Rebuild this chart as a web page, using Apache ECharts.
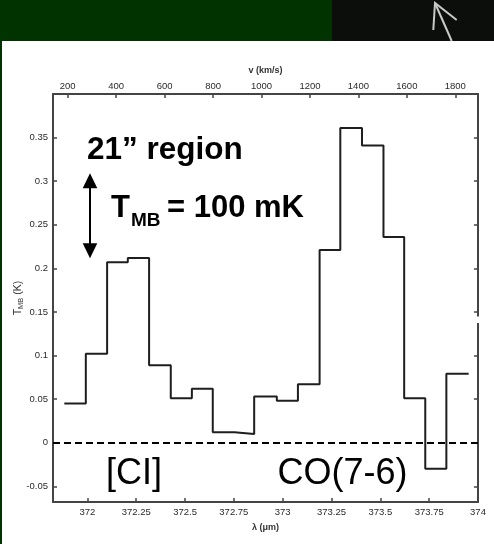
<!DOCTYPE html>
<html>
<head>
<meta charset="utf-8">
<script src="https://cdn.jsdelivr.net/npm/echarts@6/dist/echarts.min.js"></script>
<style>
  html, body { margin: 0; padding: 0; background: #ffffff; }
  #chart { width: 494px; height: 544px; }
</style>
</head>
<body>
<div id="chart"></div>
<script>
// Bin edges (wavelength, micron) and main-beam temperature per bin (K)
const lambdaEdges = [371.882, 371.992, 372.101, 372.207, 372.316, 372.427, 372.535, 372.642, 372.753, 372.854, 372.970, 373.078, 373.189, 373.295, 373.406, 373.516, 373.622, 373.730, 373.838, 373.952];
const tmbValues = [0.045, 0.102, 0.207, 0.212, 0.089, 0.051, 0.062, 0.012, 0.010, 0.053, 0.048, 0.067, 0.221, 0.361, 0.341, 0.236, 0.051, -0.030, 0.079];

// Tick labels
const lambdaTicks = [372, 372.25, 372.5, 372.75, 373, 373.25, 373.5, 373.75, 374];
const velocityTicks = [200, 400, 600, 800, 1000, 1200, 1400, 1600, 1800];
const tmbTicks = [-0.05, 0, 0.05, 0.1, 0.15, 0.2, 0.25, 0.3, 0.35];

// Axis ranges
const lambdaRange = [371.824, 374];
const velocityRange = [139.3, 1893.7];
const tmbRange = [-0.068, 0.40];

// Step data: each bin drawn from its left edge; final edge closes the last bin
const stepData = lambdaEdges.map((e, i) => [e, tmbValues[Math.min(i, tmbValues.length - 1)]]);

const axisColor = '#444';
const labelFont = { fontFamily: 'Liberation Sans', fontSize: 9.5, color: '#2a2a2a' };

function makeAxisCommon(ticks, showLabel, margin) {
  return {
    type: 'value',
    nameMoveOverlap: false,
    axisLine: { show: true, onZero: false, lineStyle: { color: axisColor, width: 2 } },
    axisTick: { show: true, inside: true, length: 4, customValues: ticks, lineStyle: { color: axisColor, width: 1.5 } },
    axisLabel: Object.assign({ show: showLabel, customValues: ticks, margin: margin, formatter: v => String(v) }, labelFont),
    splitLine: { show: false }
  };
}

const chart = echarts.init(document.getElementById('chart'), null, { renderer: 'canvas' });

const titleFont = { fontFamily: 'Liberation Sans', fontSize: 9, color: '#333', fontWeight: 'bold' };

const xBottom = Object.assign(makeAxisCommon(lambdaTicks, true, 5), {
  position: 'bottom', min: lambdaRange[0], max: lambdaRange[1],
  name: 'λ (μm)', nameLocation: 'middle', nameGap: 21,
  nameTextStyle: titleFont
});
const xTop = Object.assign(makeAxisCommon(velocityTicks, true, 2.5), {
  position: 'top', min: velocityRange[0], max: velocityRange[1],
  name: 'v (km/s)', nameLocation: 'middle', nameGap: 19,
  nameTextStyle: titleFont
});
const yLeft = Object.assign(makeAxisCommon(tmbTicks, true, 5), {
  position: 'left', min: tmbRange[0], max: tmbRange[1],
  name: '{t|T}{s|MB}{t| (K)}', nameLocation: 'middle', nameGap: 28,
  nameTextStyle: {
    rich: {
      t: { fontFamily: 'Liberation Sans', fontSize: 10.5, color: '#333', lineHeight: 14, verticalAlign: 'middle' },
      s: { fontFamily: 'Liberation Sans', fontSize: 7.5, color: '#333', verticalAlign: 'bottom' }
    }
  }
});
const yRight = Object.assign(makeAxisCommon(tmbTicks, false, 5), {
  position: 'right', min: tmbRange[0], max: tmbRange[1]
});

const textBold = { fontFamily: 'Liberation Sans', fontWeight: 'bold', fill: '#000', verticalAlign: 'top', align: 'left' };
const textNorm = { fontFamily: 'Liberation Sans', fontWeight: 'normal', fill: '#000', verticalAlign: 'top', align: 'left' };

chart.setOption({
  animation: false,
  backgroundColor: '#ffffff',
  grid: { left: 53, right: 16, top: 94, bottom: 42, containLabel: false, outerBoundsMode: 'none' },
  xAxis: [xBottom, xTop],
  yAxis: [yLeft, yRight],
  series: [{
    type: 'line',
    xAxisIndex: 0,
    yAxisIndex: 0,
    step: 'end',
    showSymbol: false,
    symbol: 'none',
    data: stepData,
    lineStyle: { color: '#1e1e1e', width: 2 },
    z: 5,
    markLine: {
      silent: true,
      symbol: ['none', 'none'],
      label: { show: false },
      lineStyle: { color: '#000', width: 2, type: [7, 4] },
      data: [{ yAxis: 0 }]
    }
  }],
  graphic: [
    // background bands
    { type: 'rect', shape: { x: 0, y: 0, width: 332, height: 41 }, style: { fill: '#003300' }, z: 100 },
    { type: 'rect', shape: { x: 332, y: 0, width: 162, height: 41 }, style: { fill: '#0b0e0b' }, z: 100 },
    { type: 'rect', shape: { x: 0, y: 0, width: 2, height: 544 }, style: { fill: '#003300' }, z: 100 },
    // arrow in the top photo band
    { type: 'polyline', shape: { points: [[451.7, 41], [435, 3]] }, style: { stroke: '#c8c8c8', lineWidth: 2, fill: null }, z: 101 },
    { type: 'polyline', shape: { points: [[456.7, 20], [435, 3], [433.3, 30]] }, style: { stroke: '#c8c8c8', lineWidth: 2, fill: null }, z: 101 },
    // small break on the right axis
    { type: 'rect', shape: { x: 476, y: 316.5, width: 7, height: 6.5 }, style: { fill: '#ffffff' }, z: 100 },
    // double arrow
    { type: 'line', shape: { x1: 90, y1: 186, x2: 90, y2: 245 }, style: { stroke: '#000', lineWidth: 2 }, z: 100 },
    { type: 'polygon', shape: { points: [[90, 173.3], [82.7, 188.3], [97.3, 188.3]] }, style: { fill: '#000' }, z: 100 },
    { type: 'polygon', shape: { points: [[90, 258.3], [82.7, 243.3], [97.3, 243.3]] }, style: { fill: '#000' }, z: 100 },
    // annotations
    { type: 'text', x: 87, y: 134.5, style: Object.assign({ text: '21\u201D region', fontSize: 31.5 }, textBold), z: 100 },
    { type: 'text', x: 111, y: 193, style: Object.assign({ text: 'T', fontSize: 31 }, textBold), z: 100 },
    { type: 'text', x: 131, y: 211, style: Object.assign({ text: 'MB', fontSize: 19 }, textBold), z: 100 },
    { type: 'text', x: 167, y: 193, style: Object.assign({ text: '= 100 mK', fontSize: 31 }, textBold), z: 100 },
    { type: 'text', x: 106, y: 456, style: Object.assign({ text: '[CI]', fontSize: 36 }, textNorm), z: 100 },
    { type: 'text', x: 277.5, y: 456, style: Object.assign({ text: 'CO(7-6)', fontSize: 36 }, textNorm), z: 100 }
  ]
});
</script>
</body>
</html>
